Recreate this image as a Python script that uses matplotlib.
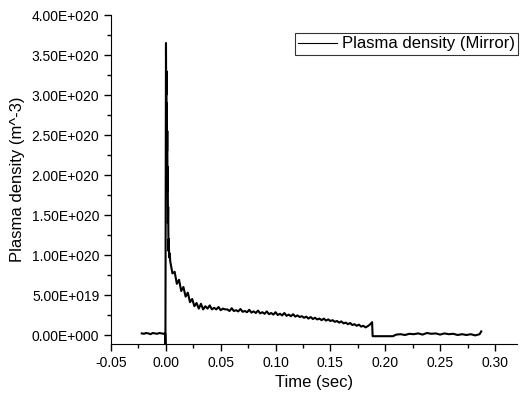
import matplotlib
matplotlib.use('Agg')
import matplotlib.pyplot as plt
from matplotlib.ticker import FuncFormatter, MultipleLocator, AutoMinorLocator
import numpy as np

plt.rcParams['font.family'] = ['Liberation Sans', 'DejaVu Sans']

# values in units of 1e19 m^-3
pre_t = [-0.022, -0.020, -0.018, -0.016, -0.014, -0.012, -0.010, -0.008, -0.006, -0.004, -0.002, -0.0006]
pre_n = [0.2, 0.15, 0.25, 0.2, 0.1, 0.25, 0.2, 0.15, 0.25, 0.2, 0.15, 0.2]

spike_t = [-0.0004, -0.0003, 0.0001, 0.0003, 0.0005, 0.0007, 0.0009, 0.0011, 0.0013,
           0.0015, 0.0017, 0.0019, 0.0021, 0.0024, 0.0027, 0.0030, 0.0035]
spike_n = [-1.2, 5.2, 36.5, 30.0, 33.0, 27.0, 29.0, 23.0, 25.5,
           18.0, 21.0, 14.0, 16.0, 10.5, 12.0, 9.7, 10.2]

# decay, sampled every 2 ms from 4 ms
decay_n = [9.2, 7.7, 7.9, 6.4, 6.9, 5.5, 6.0, 4.8, 5.3, 4.1,
           4.5, 3.6, 4.0, 3.3, 3.9, 3.2, 3.6, 3.3, 3.7, 3.2,
           3.4, 3.2, 3.5, 3.1, 3.3, 3.2, 3.2, 3.0, 3.35, 3.0,
           3.1, 2.95, 3.25, 2.9, 3.0, 2.85, 3.15, 2.8, 2.95, 2.75,
           3.05, 2.7, 2.85, 2.65, 2.95, 2.6, 2.75, 2.55, 2.85, 2.5,
           2.65, 2.45, 2.75, 2.4, 2.55, 2.35, 2.6, 2.3, 2.45, 2.25,
           2.35, 2.15, 2.3, 2.05, 2.25, 2.0, 2.15, 1.95, 2.05, 1.85,
           2.05, 1.8, 1.95, 1.75, 1.85, 1.65, 1.75, 1.55, 1.7, 1.45,
           1.55, 1.35, 1.5, 1.25, 1.35, 1.15, 1.3, 1.05, 1.15, 0.95,
           1.1, 1.3, 1.6]
decay_t = 0.004 + 0.002 * np.arange(len(decay_n))

post_t = [0.1885, 0.207, 0.210, 0.214, 0.218, 0.222, 0.226, 0.230, 0.234, 0.238,
          0.242, 0.246, 0.250, 0.254, 0.258, 0.262, 0.266, 0.270, 0.274, 0.278,
          0.282, 0.286, 0.2875]
post_n = [-0.15, -0.15, 0.05, 0.1, 0.0, 0.15, 0.1, 0.2, 0.05, 0.25,
          0.15, 0.2, 0.05, 0.2, 0.1, 0.15, 0.0, 0.1, 0.0, 0.1,
          -0.05, 0.1, 0.45]

t = np.concatenate([pre_t, spike_t, decay_t, post_t])
n = np.concatenate([pre_n, spike_n, decay_n, post_n]) * 1e19

fig = plt.figure(figsize=(5.2, 3.97), dpi=100)
ax = fig.add_axes([0.2135, 0.1335, 0.7805, 0.8287])

ax.plot(t, n, color='black', lw=1.5, label='Plasma density (Mirror)')

ax.set_xlim(-0.05, 0.32)
ax.set_ylim(-1.125e19, 4e20)
ax.xaxis.set_major_locator(MultipleLocator(0.05))
ax.xaxis.set_minor_locator(AutoMinorLocator(2))
ax.yaxis.set_major_locator(MultipleLocator(5e19))
ax.yaxis.set_minor_locator(AutoMinorLocator(2))


def sci(v, pos):
    s = f"{v:.2E}"
    mant, exp = s.split('E')
    sign = exp[0]
    return f"{mant}E{sign}{int(exp[1:]):03d}"


ax.yaxis.set_major_formatter(FuncFormatter(sci))
ax.xaxis.set_major_formatter(FuncFormatter(lambda v, p: f"{v:.2f}"))

for side in ['top', 'right']:
    ax.spines[side].set_visible(False)
ax.tick_params(which='major', direction='out', length=5, width=1, labelsize=10)
ax.tick_params(which='minor', direction='out', length=3, width=1)

ax.set_xlabel('Time (sec)', fontsize=12, labelpad=4)
ax.set_ylabel('Plasma density (m^-3)', fontsize=12, labelpad=5)

leg = fig.legend(loc='upper left', bbox_to_anchor=(295 / 520, 1 - 33 / 397),
                 fontsize=12, frameon=True, fancybox=False, borderpad=0.2,
                 handlelength=2.3, handletextpad=0.3, borderaxespad=0)
leg.get_frame().set_edgecolor('black')
leg.get_frame().set_linewidth(0.8)
for line in leg.get_lines():
    line.set_linewidth(0.8)

fig.savefig('out.png', dpi=100)
